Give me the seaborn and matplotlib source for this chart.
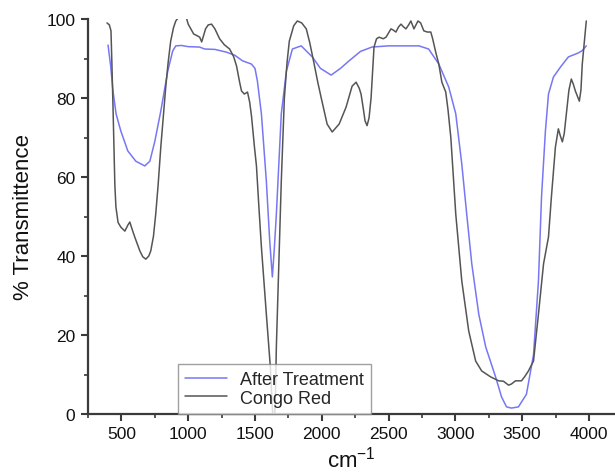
import numpy as np
import pandas as pd
import matplotlib
matplotlib.use("Agg")
import matplotlib.pyplot as plt
import seaborn as sns

# After Treatment (blue)
after_wn = [400, 420, 437, 460, 496, 548, 608, 675, 713, 750, 795, 847, 884, 907, 950, 1000,
            1085, 1123, 1200, 1287, 1350, 1407, 1473, 1500, 1518, 1548, 1585, 1610, 1630, 1645,
            1660, 1697, 1735, 1780, 1846, 1929, 1990, 2070, 2140, 2204, 2290, 2376, 2500, 2727,
            2800, 2876, 2950, 3003, 3048, 3085, 3123, 3175, 3227, 3301, 3346, 3383, 3420, 3472,
            3532, 3585, 3622, 3645, 3674, 3697, 3734, 3786, 3846, 3920, 3950, 3980]
after_t = [93.4, 88, 81.8, 76, 71.6, 66.6, 64, 62.8, 64, 69, 76.7, 86.8, 91.9, 93.2, 93.3, 93.0,
           92.9, 92.4, 92.3, 91.6, 90.8, 89.4, 88.6, 87.5, 84.3, 76, 59, 44, 34.7, 42,
           50.6, 76, 86.8, 92.4, 93.2, 90.4, 87.5, 85.8, 87.5, 89.4, 91.8, 92.9, 93.2, 93.2,
           92.4, 88.6, 82.8, 76, 63.3, 50.6, 38, 25.3, 17, 9.4, 4.3, 1.8, 1.5, 1.8,
           5, 15, 33.7, 55, 71.6, 81, 85.3, 87.8, 90.4, 91.4, 92, 93.2]

# Congo Red (gray)
congo_wn = [392, 410, 422, 429, 437, 444, 451, 459, 475, 496, 526, 548, 563, 580, 600, 638, 660,
            683, 705, 720, 740, 757, 775, 795, 815, 832, 850, 869, 890, 907, 930, 959, 985, 1000,
            1041, 1065, 1086, 1101, 1130, 1150, 1175, 1200, 1235, 1270, 1310, 1340, 1362, 1385,
            1399, 1420, 1444, 1460, 1474, 1496, 1511, 1530, 1548, 1585, 1615, 1625, 1640, 1652,
            1660, 1680, 1697, 1720, 1740, 1757, 1790, 1817, 1850, 1884, 1910, 1943, 1970, 1996,
            2040, 2078, 2130, 2182, 2227, 2257, 2280, 2294, 2310, 2324, 2339, 2354, 2369, 2391,
            2410, 2429, 2460, 2481, 2500, 2518, 2535, 2555, 2575, 2593, 2612, 2630, 2650, 2667,
            2690, 2705, 2720, 2740, 2764, 2790, 2816, 2830, 2853, 2876, 2899, 2928, 2945, 2966,
            2985, 3003, 3048, 3100, 3152, 3197, 3264, 3324, 3360, 3398, 3420, 3450, 3495, 3520,
            3547, 3585, 3622, 3660, 3697, 3719, 3749, 3771, 3785, 3801, 3815, 3831, 3850, 3868,
            3883, 3898, 3928, 3940, 3950, 3965, 3980]
congo_t = [99, 98.5, 97, 88.6, 78, 67.6, 58, 52.4, 48.5, 47.3, 46.3, 47.8, 48.6, 46.8, 44.8, 41.3, 39.8,
           39.2, 40, 41.3, 45, 50.6, 58, 67.6, 76, 82.8, 89, 94.4, 97.8, 99.5, 100.5, 101, 100.5, 98.7,
           96.2, 95.8, 95.4, 94.2, 97.5, 98.5, 98.7, 97.5, 95, 93.5, 92.4, 90.5, 88.1, 84,
           81.8, 81.0, 81.5, 79, 75.4, 67.6, 62.8, 52, 42.3, 25.3, 11.9, 5, -5, 3,
           17, 40, 59, 80, 89, 94.4, 98.3, 99.5, 99, 97.5, 94, 88.6, 84, 80,
           73.4, 71.4, 73.4, 77.7, 83, 84, 82.5, 81, 77.5, 74.2, 73, 75, 80, 92.9,
           95, 95.4, 95, 95.4, 96.5, 97.5, 97.2, 96.7, 98, 98.7, 98, 97.5, 98.5, 99.5,
           97.5, 98.5, 99.5, 99, 97, 96.7, 96.7, 95, 91.6, 88.6, 84, 81.5, 77, 70,
           60, 50.6, 33.7, 21, 13.4, 10.9, 9.4, 8.4, 8.3, 7.3, 7.6, 8.4, 8.4, 9.5,
           10.9, 13.4, 25.3, 38, 44.8, 55, 67.6, 72.2, 70.5, 68.9, 71, 76, 82, 84.8,
           83.5, 81.8, 79.2, 82, 88.6, 94, 99.5]

series_names = ["After Treatment", "Congo Red"]
x_ticks = [500, 1000, 1500, 2000, 2500, 3000, 3500, 4000]
y_ticks = [0, 20, 40, 60, 80, 100]

df = pd.concat([
    pd.DataFrame({"wn": after_wn, "T": after_t, "series": series_names[0]}),
    pd.DataFrame({"wn": congo_wn, "T": congo_t, "series": series_names[1]}),
], ignore_index=True)

sns.set_style("ticks")
plt.rcParams["font.family"] = ["Liberation Sans", "DejaVu Sans"]
plt.rcParams["mathtext.default"] = "regular"

fig = plt.figure(figsize=(6.15, 4.77), dpi=100)
ax = fig.add_axes([88 / 615, 62 / 477, 527 / 615, 395 / 477])

sns.lineplot(data=df, x="wn", y="T", hue="series", sort=False, estimator=None,
             palette={"After Treatment": "#7777f4", "Congo Red": "#555555"},
             linewidth=1.1, ax=ax)

ax.set_xlim(252, 4195)
ax.set_ylim(0, 100)
ax.set_xticks(x_ticks)
ax.set_yticks(y_ticks)
ax.set_xticks(np.arange(250, 4200, 250), minor=True)
ax.set_yticks(np.arange(0, 101, 10), minor=True)

for s in ["top", "right"]:
    ax.spines[s].set_visible(False)
for s in ["left", "bottom"]:
    ax.spines[s].set_color("#3a3a3a")
    ax.spines[s].set_linewidth(1.6)

ax.tick_params(axis="both", which="major", direction="out", length=5, width=1.5,
               color="#3a3a3a", labelsize=12.5, labelcolor="#111111", pad=4)
ax.tick_params(axis="both", which="minor", direction="out", length=3, width=1.2,
               color="#3a3a3a")

ax.set_xlabel(r"cm$^{-1}$", fontsize=16, labelpad=3, color="#111111")
ax.set_ylabel("% Transmittence", fontsize=16, labelpad=9, color="#111111")

leg = ax.legend(loc="lower left", bbox_to_anchor=(0.171, 0.0), frameon=True,
                fancybox=False, fontsize=13, handlelength=2.3, borderpad=0.4,
                labelspacing=0.08, handletextpad=0.7, borderaxespad=0)
leg.get_frame().set_edgecolor("#888888")
leg.get_frame().set_linewidth(1.0)
leg.set_title(None)

fig.savefig("out.png", dpi=100)
